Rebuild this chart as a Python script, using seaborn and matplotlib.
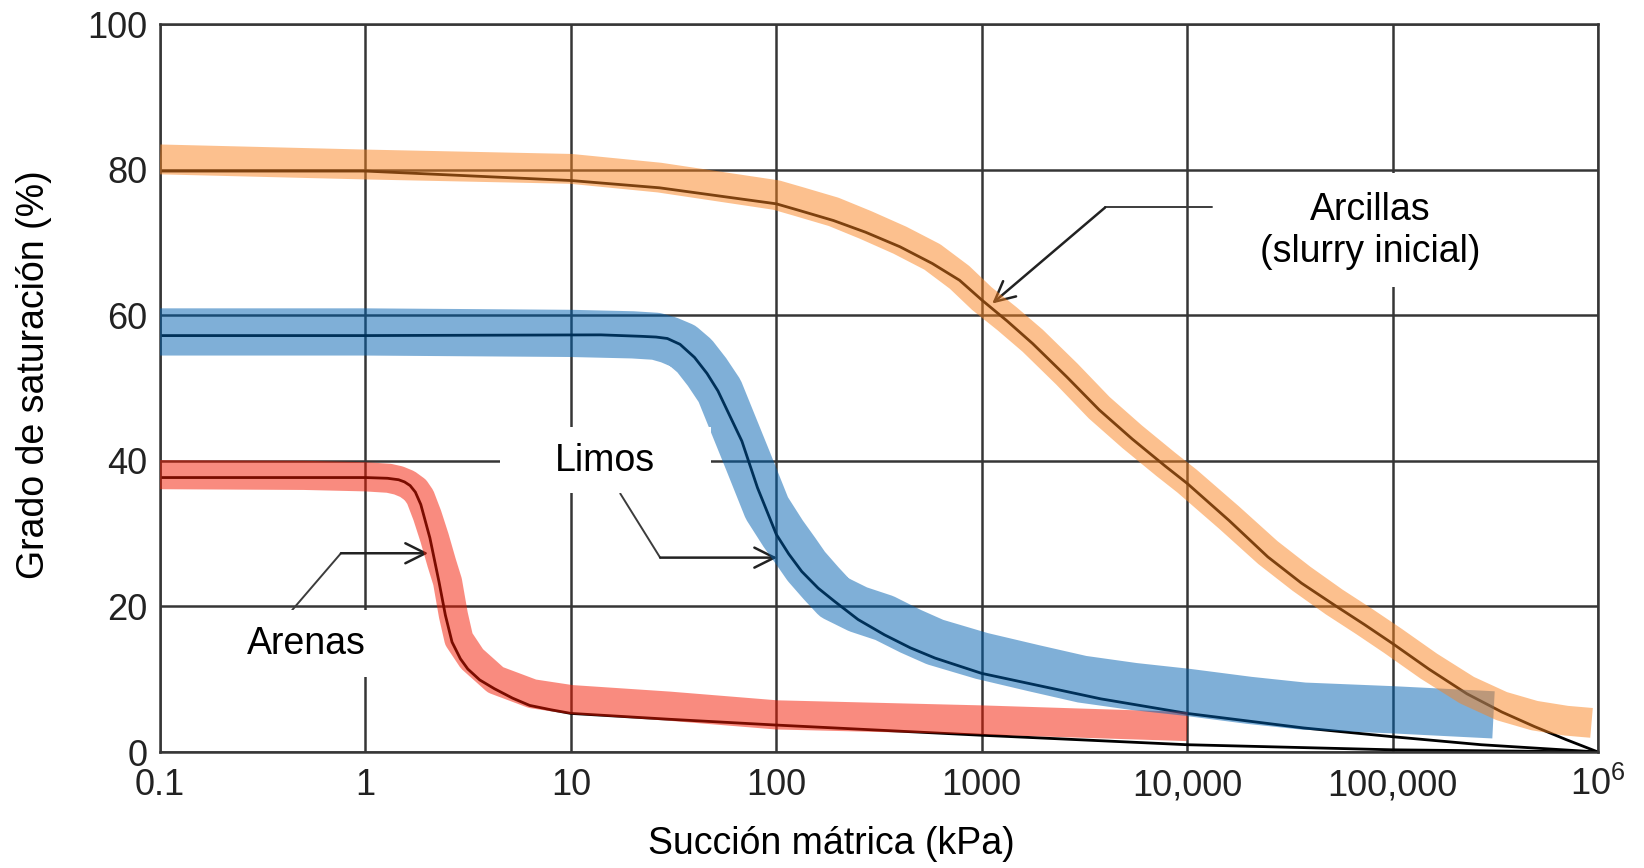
import matplotlib
matplotlib.use("Agg")
import matplotlib.pyplot as plt
import seaborn as sns
from matplotlib.patches import Rectangle

# -----------------------------
# Data
# -----------------------------
x_ticks = [0.1, 1, 10, 100, 1000, 1e4, 1e5, 1e6]
x_tick_labels = ["0.1", "1", "10", "100", "1000", "10,000", "100,000", r"$\mathregular{10^6}$"]
y_ticks = [0, 20, 40, 60, 80, 100]

# Arenas (sand)
sand_line_x = [0.1, 0.5, 1.0, 1.28, 1.45, 1.55, 1.65, 1.75, 1.86, 2.06, 2.28, 2.45, 2.64,
               2.9, 3.15, 3.6, 4.24, 5.2, 6.3, 8, 10, 30, 100, 1000, 1e4, 1e5, 1e6]
sand_line_y = [37.7, 37.7, 37.7, 37.6, 37.4, 37.1, 36.6, 35.7, 34.0, 29.4, 23.4, 18.8, 15.1,
               12.8, 11.4, 9.9, 8.7, 7.4, 6.4, 5.8, 5.3, 4.5, 3.7, 2.3, 1.0, 0.3, 0.0]
sand_band_x = [0.1, 0.5, 1.0, 1.3, 1.45, 1.6, 1.75, 1.85, 2.0, 2.17, 2.35, 2.51, 2.68, 2.85,
               3.3, 4.3, 6.5, 10, 30, 100, 1000, 1e4]
sand_band_y = [38.1, 38.0, 37.8, 37.6, 37.3, 36.8, 36.0, 35.0, 32.5, 29.4, 26.0, 23.4, 18.8,
               15.5, 12.8, 9.9, 8.0, 7.2, 6.3, 5.1, 4.4, 3.5]

# Limos (silt)
silt_line_x = [0.1, 1, 14, 22, 26, 29.5, 34, 40, 46, 52, 68, 81, 100, 115, 133, 160,
               192, 250, 336, 450, 593, 1000, 3800, 1e4, 3.7e4, 1e5, 2.7e5, 1e6]
silt_line_y = [57.2, 57.2, 57.3, 57.1, 57.0, 56.8, 56.0, 54.2, 52.0, 49.6, 42.7, 36.3,
               29.9, 27.2, 24.8, 22.5, 20.7, 18.2, 16.1, 14.3, 12.9, 10.8, 7.3, 5.3,
               3.3, 2.1, 1.0, 0.0]
silt_band_x = [0.1, 1, 10, 20, 26, 30, 35, 40, 46, 53, 72.8, 90, 108, 125, 140, 165,
               192, 250, 336, 450, 593, 1000, 1800, 3080, 5500, 1e4, 2e4, 3.7e4, 1e5, 3.1e5]
silt_band_y = [57.7, 57.7, 57.5, 57.3, 57.1, 56.6, 55.8, 54.4, 52.2, 49.6, 40.0, 33.5,
               30.0, 27.5, 25.5, 23.2, 21.2, 19.6, 18.4, 16.6, 15.1, 13.2, 11.5, 10.0,
               9.0, 8.2, 7.1, 6.3, 5.8, 5.1]

# Arcillas (clay)
clay_line_x = [0.1, 1, 10, 27, 100, 129, 190, 272, 400, 575, 780, 1000, 1330, 1770,
               2600, 3730, 5400, 7880, 1e4, 1.6e4, 2.47e4, 3.6e4, 5.2e4, 7.3e4, 1e5,
               1.5e5, 2.3e5, 3.4e5, 4.9e5, 7e5, 1e6]
clay_line_y = [79.8, 79.8, 78.5, 77.5, 75.3, 74.4, 73.0, 71.4, 69.4, 67.1, 64.8, 62.1,
               59.2, 56.1, 51.5, 47.0, 43.0, 39.2, 36.9, 31.8, 26.8, 23.2, 20.2, 17.5,
               14.9, 11.4, 8.0, 5.5, 3.5, 1.7, 0.0]
clay_band_x = [0.1, 1, 10, 27, 100, 129, 190, 272, 400, 575, 780, 1000, 1330, 1770,
               2600, 3730, 5400, 7880, 1e4, 1.6e4, 2.47e4, 3.6e4, 5.2e4, 7.3e4, 1e5,
               1.5e5, 2.3e5, 3.4e5, 4.9e5, 7e5, 9.3e5]
clay_band_y = [81.4, 80.7, 80.1, 78.9, 76.5, 75.6, 74.2, 72.4, 70.3, 68.0, 65.2, 62.3,
               59.5, 56.5, 51.9, 47.3, 43.3, 39.5, 37.2, 32.2, 27.4, 23.8, 20.6, 17.9,
               15.3, 11.8, 8.5, 6.3, 5.0, 4.3, 4.0]

# -----------------------------
# Figure
# -----------------------------
sns.set_theme(style="white")
plt.rcParams["font.family"] = ["Liberation Sans", "DejaVu Sans"]

W, H = 1644, 868
L, R, T, B = 160, 1598, 24, 752
fig = plt.figure(figsize=(W / 100, H / 100), dpi=100)
ax = fig.add_axes([L / W, 1 - B / H, (R - L) / W, (B - T) / H])
ax.set_xscale("log")

grid_col = "#363636"

def axfrac(px, py):
    return (px - L) / (R - L), (B - py) / (B - T)

# thin black curves (under the bands)
for xs, ys in [(sand_line_x, sand_line_y), (silt_line_x, silt_line_y), (clay_line_x, clay_line_y)]:
    sns.lineplot(x=xs, y=ys, ax=ax, color="black", lw=2.0, sort=False,
                 estimator=None, zorder=2)

# translucent bands on top
bands = [
    (sand_band_x, sand_band_y, "#F51900", 21),
    (silt_band_x, silt_band_y, "#0061B1", 34),
    (clay_band_x, clay_band_y, "#FA821E", 21.5),
]
for xs, ys, col, lw in bands:
    sns.lineplot(x=xs, y=ys, ax=ax, color=col, lw=lw, alpha=0.5, sort=False,
                 estimator=None, solid_capstyle="butt", solid_joinstyle="round", zorder=3)

ax.set_xlim(0.1, 1e6)
ax.set_ylim(0, 100)
ax.set_xticks(x_ticks)
ax.set_xticklabels(x_tick_labels, va="baseline")
ax.set_yticks(y_ticks)
ax.minorticks_off()
ax.tick_params(axis="x", length=0, labelsize=26, colors="#222222", pad=31)
ax.tick_params(axis="y", length=0, labelsize=26, colors="#222222", pad=9)
ax.grid(True, color=grid_col, lw=1.8)
ax.set_axisbelow(True)
for s in ax.spines.values():
    s.set_visible(True)
    s.set_color(grid_col)
    s.set_linewidth(1.8)
ax.set_xlabel("")
ax.set_ylabel("")

# -----------------------------
# Labels with white boxes and leader arrows
# -----------------------------
lead = dict(color="#3c3c3c", lw=1.4, zorder=2.5)
arrow = dict(arrowstyle="->", color="#222222", lw=1.8, shrinkA=0, shrinkB=0,
             mutation_scale=36)

# Arcillas
ax.plot([13240, 3990], [74.8, 74.8], **lead)
ax.annotate("", xy=(1125, 61.6), xytext=(3990, 74.8), arrowprops=arrow, zorder=2.6)
# Limos
ax.plot([17.4, 27.2], [35.5, 26.7], **lead)
ax.annotate("", xy=(101, 26.7), xytext=(27.2, 26.7), arrowprops=arrow, zorder=2.6)
# Arenas
ax.plot([0.44, 0.76], [19.5, 27.3], **lead)
ax.annotate("", xy=(2.02, 27.3), xytext=(0.76, 27.3), arrowprops=arrow, zorder=2.6)

boxes = [
    (1215, 173, 1545, 287),
    (500, 427, 711, 493),
    (225, 610, 385, 677),
]
for x0, y0, x1, y1 in boxes:
    fx0, fy1 = axfrac(x0, y0)
    fx1, fy0 = axfrac(x1, y1)
    ax.add_patch(Rectangle((fx0, fy0), fx1 - fx0, fy1 - fy0, transform=ax.transAxes,
                           facecolor="white", edgecolor="none", zorder=4))

labels = [
    (1370, 231, "Arcillas\n(slurry inicial)"),
    (605, 461, "Limos"),
    (306, 644, "Arenas"),
]
for px, py, txt in labels:
    fx, fy = axfrac(px, py)
    ax.text(fx, fy, txt, transform=ax.transAxes, ha="center", va="center",
            fontsize=27, color="black", linespacing=1.2, zorder=5)

# axis titles
fig.text(831 / W, 1 - 844 / H, "Succión mátrica (kPa)", ha="center", va="center",
         fontsize=27, color="black")
fig.text(34 / W, 1 - 375 / H, "Grado de saturación (%)", ha="center", va="center",
         rotation=90, fontsize=27, color="black")

fig.savefig("out.png", dpi=100)
plt.close(fig)
